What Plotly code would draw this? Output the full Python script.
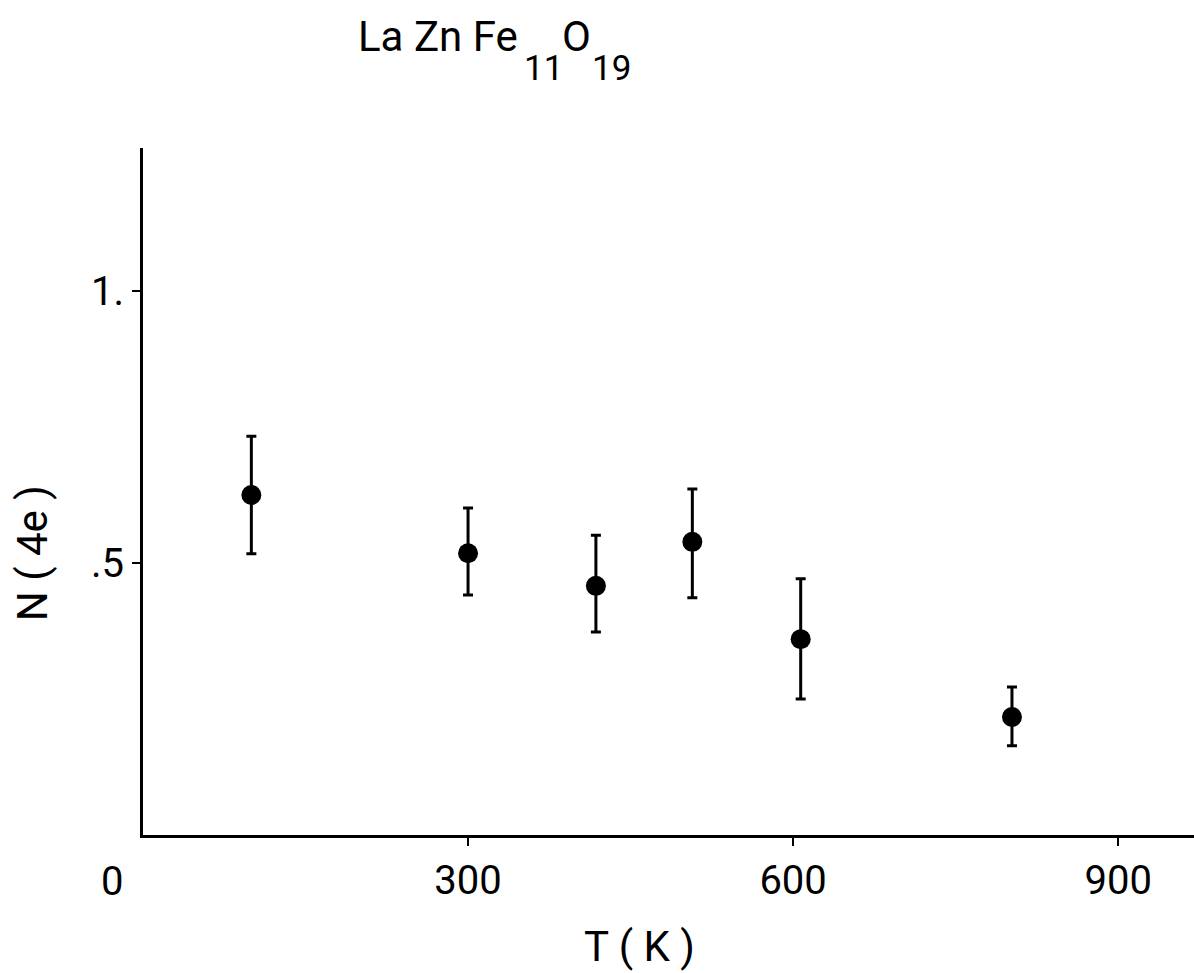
import plotly.graph_objects as go

# Data
T_K = [100, 300, 418, 507, 607, 802]
N_4e = [0.625, 0.518, 0.458, 0.539, 0.360, 0.217]
err_plus = [0.108, 0.083, 0.093, 0.097, 0.111, 0.055]
err_minus = [0.108, 0.077, 0.085, 0.103, 0.110, 0.053]

x_tickvals = [300, 600, 900]
x_ticktext = ["300", "600", "900"]
y_tickvals = [0.5, 1.0]
y_ticktext = [".5", "1."]

FONT = "Roboto, DejaVu Sans, sans-serif"

fig = go.Figure()
fig.add_trace(go.Scatter(
    x=T_K, y=N_4e, mode="markers",
    marker=dict(color="black", size=20, line=dict(width=0)),
    error_y=dict(type="data", symmetric=False, array=err_plus, arrayminus=err_minus,
                 color="black", thickness=3, width=5),
    showlegend=False,
))

fig.update_layout(
    width=1194, height=973,
    margin=dict(l=143, r=0, t=148, b=138),
    paper_bgcolor="white", plot_bgcolor="white",
    font=dict(family=FONT, color="black", size=40),
    xaxis=dict(range=[0, 970], showgrid=False, zeroline=False,
               showline=True, linecolor="black", linewidth=3,
               ticks="outside", ticklen=8, tickwidth=2, tickcolor="black",
               tickvals=x_tickvals, ticktext=x_ticktext,
               tickfont=dict(size=40, family=FONT)),
    yaxis=dict(range=[0, 1.263], showgrid=False, zeroline=False,
               showline=True, linecolor="black", linewidth=3,
               ticks="outside", ticklen=8, tickwidth=2, tickcolor="black",
               tickvals=y_tickvals, ticktext=y_ticktext,
               tickfont=dict(size=40, family=FONT)),
)

# "0" label at origin (offset left as in the reference)
fig.add_annotation(text="0", x=(112 - 143) / 1051, xref="paper", y=(835 - 882) / 687, yref="paper",
                   showarrow=False, font=dict(size=40, family=FONT),
                   xanchor="center", yanchor="middle")

# Axis titles
fig.add_annotation(text="T ( K )", x=458, xref="x", y=(835 - 946) / 687, yref="paper",
                   showarrow=False, font=dict(size=42, family=FONT),
                   xanchor="center", yanchor="middle")
fig.add_annotation(text="N ( 4e )", x=(32 - 143) / 1051, xref="paper", y=0.518, yref="y",
                   showarrow=False, textangle=-90, font=dict(size=42, family=FONT),
                   xanchor="center", yanchor="middle")

# Title: La Zn Fe11 O19
title_parts = [("La Zn Fe", 356, 37, 42),
               ("11", 522, 68, 35),
               ("O", 560, 37, 42),
               ("19", 590, 68, 35)]
for txt, px, py, fs in title_parts:
    fig.add_annotation(text=txt, x=(px - 143) / 1051, xref="paper",
                       y=(835 - py) / 687, yref="paper",
                       showarrow=False, font=dict(size=fs, family=FONT),
                       xanchor="left", yanchor="middle")

fig.write_html("out.html")
